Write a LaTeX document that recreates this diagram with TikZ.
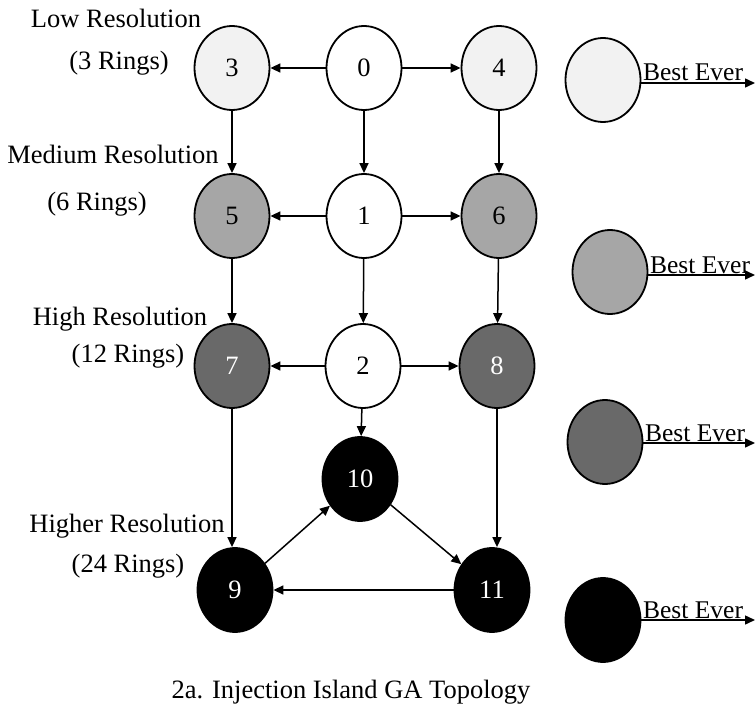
\documentclass[tikz,border=0pt]{standalone}
\usepackage{fontspec}
\setmainfont{Liberation Serif}
\usetikzlibrary{shapes.geometric,arrows.meta}

\tikzset{
  isle/.style={ellipse, draw, line width=1.8pt, minimum width=75pt, minimum height=84pt, inner sep=0pt},
  lowres/.style={isle, fill=black!5},
  medres/.style={isle, fill=black!35},
  highres/.style={isle, fill=black!59, text=white},
  topres/.style={isle, fill=black, text=white},
  arr/.style={-{Triangle[length=10pt,width=9pt]}, line width=1.5pt},
  best/.style={pos=0, anchor=base west, xshift=1pt, yshift=2pt, inner sep=0pt, font=\fontsize{25.5}{30}\selectfont},
}

\begin{document}
\begin{tikzpicture}[x=1pt, y=-1pt, font=\fontsize{26.5}{30}\selectfont]
	\useasboundingbox (0,0) rectangle (756,709);

	% islands
	\node[isle] (n0) at (364,68) {0};
	\node[lowres] (n3) at (232,68) {3};
	\node[lowres] (n4) at (499,68) {4};

	\node[isle] (n1) at (364,216) {1};
	\node[medres] (n5) at (232,216) {5};
	\node[medres] (n6) at (499,216) {6};

	\node[isle] (n2) at (363,366) {2};
	\node[highres] (n7) at (232,366) {7};
	\node[highres] (n8) at (497,366) {8};

	\node[topres] (n10) at (360,479) {10};
	\node[topres] (n9) at (235,590) {9};
	\node[topres] (n11) at (492,590) {11};

	% migration
	\draw[arr] (n0) -- (n3);
	\draw[arr] (n0) -- (n4);
	\draw[arr] (n0) -- (n1);
	\draw[arr] (n3) -- (n5);
	\draw[arr] (n4) -- (n6);
	\draw[arr] (n1) -- (n5);
	\draw[arr] (n1) -- (n6);
	\draw[arr] (n1) -- (n2);
	\draw[arr] (n5) -- (n7);
	\draw[arr] (n6) -- (n8);
	\draw[arr] (n2) -- (n7);
	\draw[arr] (n2) -- (n8);
	\draw[arr] (n2) -- (n10);
	\draw[arr] (n7) -- (n7 |- n9.north);
	\draw[arr] (n8) -- (n8 |- n11.north);
	\draw[arr] (n9) -- (n10);
	\draw[arr] (n10) -- (n11);
	\draw[arr] (n11) -- (n9);

	% resolution labels
	\node[anchor=base] (low) at (116,28) {Low Resolution};
	\node[anchor=base] (lowr) at (119,70) {(3 Rings)};
	\node[anchor=base] (med) at (113,163) {Medium Resolution};
	\node[anchor=base] (medr) at (97,210) {(6 Rings)};
	\node[anchor=base] (high) at (120,325) {High Resolution};
	\node[anchor=base] (highr) at (128,362) {(12 Rings)};
	\node[anchor=base] (top) at (127,532) {Higher Resolution};
	\node[anchor=base] (topr) at (128,572) {(24 Rings)};

	% best ever
	\node[lowres] (b1) at (603,80) {};
	\node[medres] (b2) at (610,272) {};
	\node[highres] (b3) at (605,442) {};
	\node[topres] (b4) at (603,620) {};
	\coordinate (e1) at (755,83);
	\coordinate (e2) at (755,275);
	\coordinate (e3) at (755,443);
	\coordinate (e4) at (755,620);
	\draw[arr] (b1.east |- e1) -- (e1) node[best] {Best Ever};
	\draw[arr] (b2.east |- e2) -- (e2) node[best] {Best Ever};
	\draw[arr] (b3.east |- e3) -- (e3) node[best] {Best Ever};
	\draw[arr] (b4.east |- e4) -- (e4) node[best] {Best Ever};

	\node[anchor=base] (cap) at (351,698) {2a. Injection Island GA Topology};
\end{tikzpicture}
\end{document}
